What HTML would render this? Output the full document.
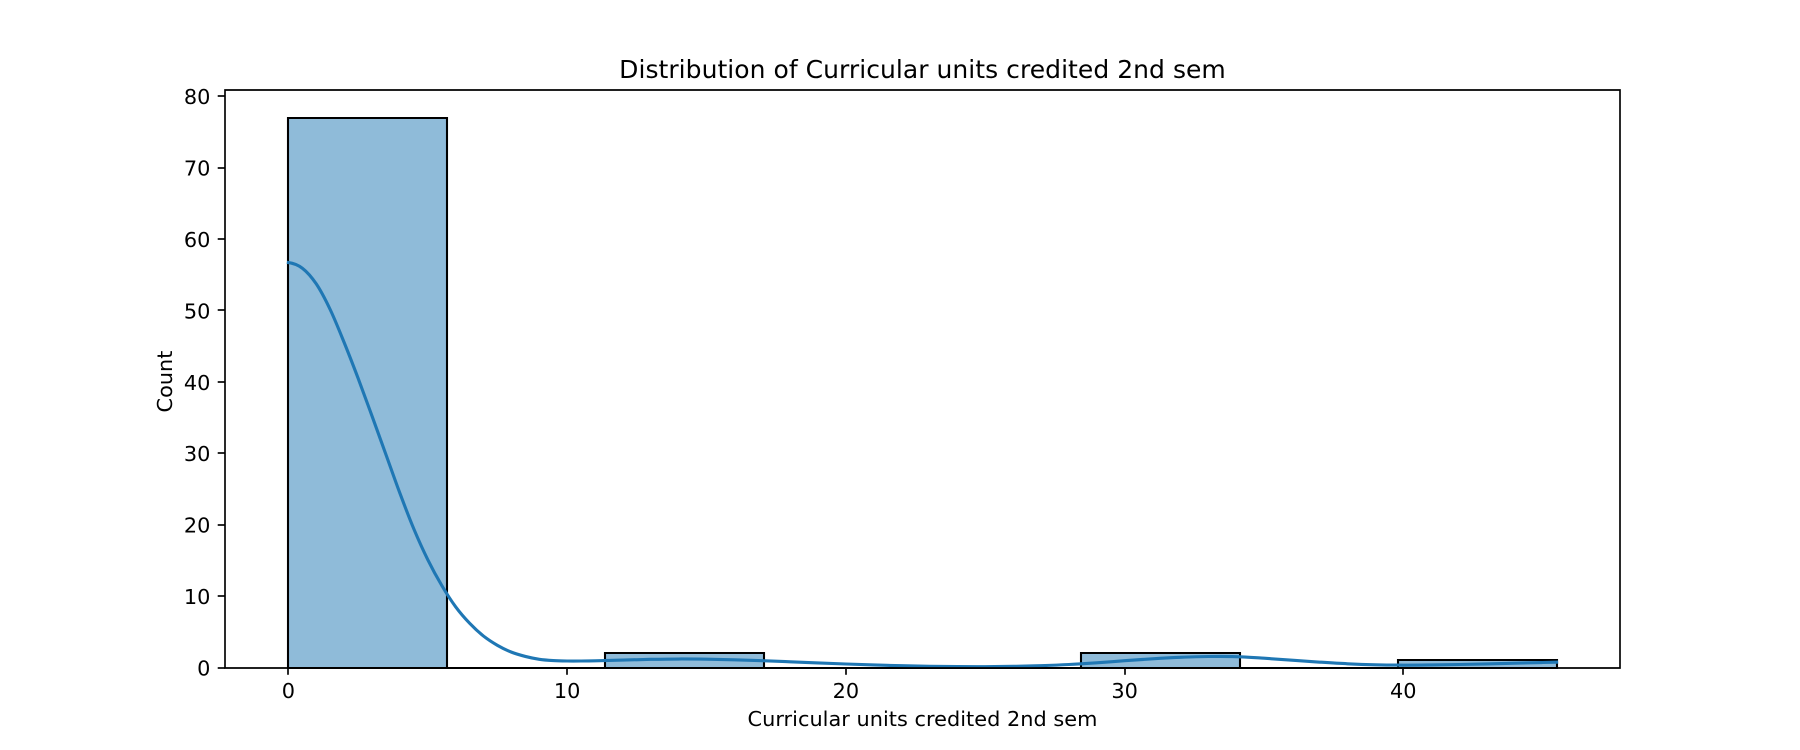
<!DOCTYPE html>
<html lang="en">
<head>
<meta charset="utf-8">
<title>Distribution of Curricular units credited 2nd sem</title>
<style>
html,body{margin:0;padding:0;background:#fff;}
svg{display:block;}
text{font-family:"DejaVu Sans",sans-serif;fill:#000;}
</style>
</head>
<body>
<svg id="chart" xmlns="http://www.w3.org/2000/svg" width="1800" height="750" viewBox="0 0 1800 750">
  <rect x="0" y="0" width="1800" height="750" fill="#ffffff"/>
  <g id="bars"></g>
  <path id="kde" fill="none" stroke="#1f77b4" stroke-width="3.125" stroke-linecap="square" stroke-linejoin="round"></path>
  <g id="xticks"></g>
  <g id="yticks"></g>
  <g id="spines"></g>
  <text x="922.5" y="78" text-anchor="middle" font-size="25" letter-spacing="0.04">Distribution of Curricular units credited 2nd sem</text>
  <text x="922.5" y="726" text-anchor="middle" font-size="20.83" letter-spacing="0.03">Curricular units credited 2nd sem</text>
  <text x="172" y="381.5" text-anchor="middle" font-size="20.83" transform="rotate(-90 172 381.5)">Count</text>
</svg>
<script>
const binEdges = [0, 5.6875, 11.375, 17.0625, 22.75, 28.4375, 34.125, 39.8125, 45.5];
const binCounts = [77, 0, 2, 0, 0, 2, 0, 1];
const kdeX = [0, 0.5, 1, 1.5, 2, 2.5, 3, 3.5, 4, 4.5, 5, 5.5, 6, 6.5, 7, 7.5, 8, 8.5, 9, 9.5, 10, 10.5, 11, 12, 13, 14, 15, 16, 17, 18, 19, 20, 21, 22, 23, 24, 25, 26, 27, 28, 29, 30, 31, 32, 33, 34, 35, 36, 37, 38, 39, 40, 41, 42, 43, 44, 45, 45.5];
const kdeY = [56.7, 55.9, 53.7, 50.1, 45.5, 40.5, 35.2, 29.8, 24.4, 19.4, 15.1, 11.5, 8.5, 6.2, 4.4, 3.1, 2.15, 1.55, 1.15, 0.97, 0.91, 0.91, 0.94, 1.04, 1.14, 1.19, 1.16, 1.07, 0.95, 0.8, 0.64, 0.49, 0.36, 0.25, 0.17, 0.13, 0.12, 0.16, 0.26, 0.42, 0.66, 0.95, 1.22, 1.42, 1.54, 1.52, 1.3, 1.02, 0.75, 0.52, 0.38, 0.33, 0.36, 0.42, 0.5, 0.6, 0.7, 0.75];
const xTickValues = [0, 10, 20, 30, 40];
const xTickLabels = ['0', '10', '20', '30', '40'];
const yTickValues = [0, 10, 20, 30, 40, 50, 60, 70, 80];
const yTickLabels = ['0', '10', '20', '30', '40', '50', '60', '70', '80'];

const NS = 'http://www.w3.org/2000/svg';
const plot = { left: 225, right: 1620, top: 90, bottom: 667.5 };
const maxEdge = Math.max(...binEdges);
const minEdge = Math.min(...binEdges);
const xPad = (maxEdge - minEdge) * 0.05;
const xMin = minEdge - xPad;
const xMax = maxEdge + xPad;
const yMax = Math.max(...binCounts, ...kdeY) * 1.05;

function xScale(v) {
  return plot.left + (v - xMin) / (xMax - xMin) * (plot.right - plot.left);
}
function yScale(v) {
  return plot.bottom - v / yMax * (plot.bottom - plot.top);
}
function snapX(v) {
  return Math.round(xScale(v));
}
function snapY(v) {
  return Math.round(yScale(v) + 0.01);
}

const barsGroup = document.getElementById('bars');
binCounts.forEach(function (count, i) {
  const x0 = snapX(binEdges[i]);
  const x1 = snapX(binEdges[i + 1]);
  const y0 = snapY(0);
  const y1 = snapY(count);
  const fill = document.createElementNS(NS, 'path');
  
  
  fill.setAttribute('d', 'M' + x0 + ' ' + y0 + 'L' + x0 + ' ' + y1 + 'L' + x1 + ' ' + y1 + 'L' + x1 + ' ' + y0 + 'Z');
  fill.setAttribute('fill', '#1f77b4');
  fill.setAttribute('fill-opacity', '0.5');
  fill.setAttribute('stroke', '#000000');
  fill.setAttribute('stroke-width', '2.083');
  fill.setAttribute('stroke-linejoin', 'miter');
  barsGroup.appendChild(fill);
});

function smoothPath(xs, ys) {
  const pts = xs.map(function (x, i) { return [xScale(x), yScale(ys[i])]; });
  const n = pts.length;
  const slopes = pts.map(function (p, i) {
    if (i === 0) return (pts[1][1] - p[1]) / (pts[1][0] - p[0]) * 0.3;
    if (i === n - 1) return (p[1] - pts[i - 1][1]) / (p[0] - pts[i - 1][0]);
    return (pts[i + 1][1] - pts[i - 1][1]) / (pts[i + 1][0] - pts[i - 1][0]);
  });
  let d = 'M' + pts[0][0].toFixed(2) + ' ' + pts[0][1].toFixed(2);
  for (let i = 0; i < n - 1; i++) {
    const h = (pts[i + 1][0] - pts[i][0]) / 3;
    const c1x = pts[i][0] + h;
    const c1y = pts[i][1] + slopes[i] * h;
    const c2x = pts[i + 1][0] - h;
    const c2y = pts[i + 1][1] - slopes[i + 1] * h;
    d += 'C' + c1x.toFixed(2) + ' ' + c1y.toFixed(2) + ' ' + c2x.toFixed(2) + ' ' + c2y.toFixed(2) + ' ' + pts[i + 1][0].toFixed(2) + ' ' + pts[i + 1][1].toFixed(2);
  }
  return d;
}
document.getElementById('kde').setAttribute('d', smoothPath(kdeX, kdeY));

const xTicksGroup = document.getElementById('xticks');
xTickValues.forEach(function (v, i) {
  const px = snapX(v);
  const tick = document.createElementNS(NS, 'line');
  
  
  tick.setAttribute('x1', px);
  tick.setAttribute('x2', px);
  tick.setAttribute('y1', plot.bottom);
  tick.setAttribute('y2', plot.bottom + 7.29);
  tick.setAttribute('stroke', '#000000');
  tick.setAttribute('stroke-width', '1.667');
  xTicksGroup.appendChild(tick);
  const label = document.createElementNS(NS, 'text');
  
  
  label.setAttribute('x', xScale(v));
  label.setAttribute('y', 698);
  label.setAttribute('text-anchor', 'middle');
  label.setAttribute('font-size', '20.83');
  label.textContent = xTickLabels[i];
  xTicksGroup.appendChild(label);
});

const yTicksGroup = document.getElementById('yticks');
yTickValues.forEach(function (v, i) {
  const py = snapY(v);
  const tick = document.createElementNS(NS, 'line');
  
  
  tick.setAttribute('x1', plot.left - 7.29);
  tick.setAttribute('x2', plot.left);
  tick.setAttribute('y1', py);
  tick.setAttribute('y2', py);
  tick.setAttribute('stroke', '#000000');
  tick.setAttribute('stroke-width', '1.667');
  yTicksGroup.appendChild(tick);
  const label = document.createElementNS(NS, 'text');
  
  
  label.setAttribute('x', plot.left - 14.6);
  label.setAttribute('y', yScale(v) + 8);
  label.setAttribute('text-anchor', 'end');
  label.setAttribute('font-size', '20.83');
  label.textContent = yTickLabels[i];
  yTicksGroup.appendChild(label);
});

const spines = document.getElementById('spines');
const spineBottom = Math.round(plot.bottom + 0.01);
const frame = document.createElementNS(NS, 'path');


frame.setAttribute('d', 'M' + plot.left + ' ' + plot.top + 'L' + plot.right + ' ' + plot.top + 'L' + plot.right + ' ' + spineBottom + 'L' + plot.left + ' ' + spineBottom + 'Z');
frame.setAttribute('fill', 'none');
frame.setAttribute('stroke', '#000000');
frame.setAttribute('stroke-width', '1.667');
frame.setAttribute('stroke-linecap', 'square');
spines.appendChild(frame);
</script>
</body>
</html>
